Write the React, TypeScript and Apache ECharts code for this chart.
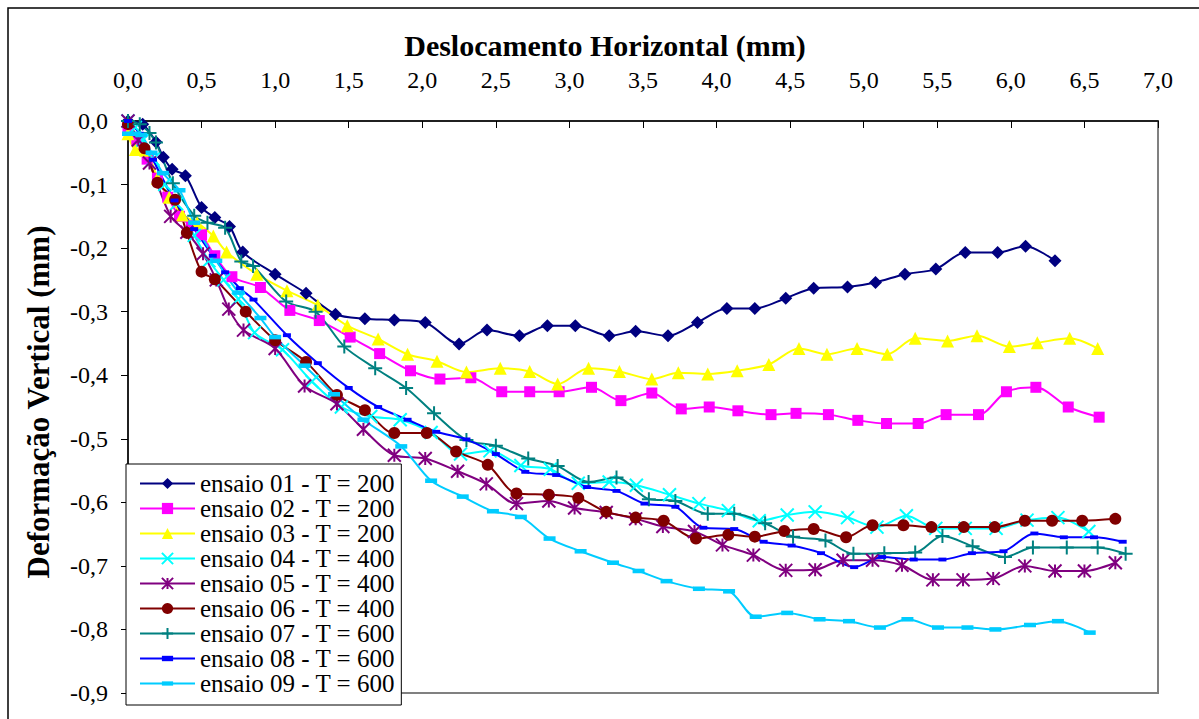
import React, { useEffect, useRef } from "react";
import * as echarts from "echarts";

const xTicks = { min: 0, max: 7, step: 0.5 };
const yTicks = { min: -0.9, max: 0, step: 0.1 };

const xTitle = "Deslocamento Horizontal (mm)";
const yTitle = "Deformação Vertical (mm)";

const seriesNames = [
  "ensaio 01 - T = 200",
  "ensaio 02 - T = 200",
  "ensaio 03 - T = 200",
  "ensaio 04 - T = 400",
  "ensaio 05 - T = 400",
  "ensaio 06 - T = 400",
  "ensaio 07 - T = 600",
  "ensaio 08 - T = 600",
  "ensaio 09 - T = 600",
];

const ensaio01 = [[0,0],[0.1,-0.005],[0.19,-0.033],[0.24,-0.057],[0.3,-0.076],[0.39,-0.086],[0.5,-0.136],[0.59,-0.152],[0.69,-0.166],[0.78,-0.206],[1.0,-0.241],[1.21,-0.271],[1.41,-0.304],[1.61,-0.311],[1.81,-0.313],[2.02,-0.317],[2.25,-0.351],[2.44,-0.329],[2.66,-0.338],[2.85,-0.322],[3.04,-0.322],[3.27,-0.338],[3.45,-0.331],[3.67,-0.338],[3.87,-0.317],[4.07,-0.295],[4.26,-0.295],[4.47,-0.279],[4.66,-0.263],[4.89,-0.261],[5.08,-0.254],[5.28,-0.241],[5.49,-0.233],[5.69,-0.207],[5.91,-0.207],[6.10,-0.197],[6.30,-0.220]];
const ensaio02 = [[0,-0.01],[0.06,-0.03],[0.13,-0.06],[0.2,-0.09],[0.27,-0.12],[0.35,-0.15],[0.43,-0.165],[0.5,-0.179],[0.59,-0.212],[0.706,-0.245],[0.9,-0.262],[1.1,-0.298],[1.3,-0.314],[1.51,-0.34],[1.71,-0.366],[1.92,-0.393],[2.12,-0.406],[2.33,-0.404],[2.54,-0.426],[2.73,-0.426],[2.93,-0.426],[3.15,-0.419],[3.35,-0.44],[3.56,-0.428],[3.76,-0.453],[3.95,-0.45],[4.145,-0.456],[4.37,-0.462],[4.54,-0.46],[4.76,-0.462],[4.96,-0.471],[5.155,-0.476],[5.37,-0.476],[5.56,-0.462],[5.78,-0.462],[5.97,-0.426],[6.17,-0.419],[6.39,-0.45],[6.6,-0.466]];
const ensaio03 = [[0,-0.02],[0.05,-0.045],[0.12,-0.046],[0.2,-0.09],[0.28,-0.12],[0.37,-0.148],[0.47,-0.16],[0.58,-0.181],[0.67,-0.206],[0.875,-0.241],[1.08,-0.267],[1.29,-0.29],[1.49,-0.322],[1.7,-0.343],[1.9,-0.367],[2.1,-0.378],[2.3,-0.395],[2.53,-0.389],[2.73,-0.394],[2.92,-0.414],[3.13,-0.389],[3.34,-0.394],[3.56,-0.406],[3.74,-0.396],[3.94,-0.398],[4.14,-0.393],[4.355,-0.383],[4.56,-0.358],[4.75,-0.367],[4.955,-0.358],[5.16,-0.367],[5.35,-0.342],[5.57,-0.346],[5.77,-0.338],[5.99,-0.355],[6.18,-0.349],[6.4,-0.342],[6.59,-0.358]];
const ensaio04 = [[0,0],[0.05,-0.01],[0.1,-0.03],[0.17,-0.06],[0.25,-0.1],[0.33,-0.13],[0.45,-0.18],[0.55,-0.22],[0.65,-0.25],[0.75,-0.28],[0.86,-0.333],[1.05,-0.36],[1.25,-0.41],[1.45,-0.45],[1.65,-0.465],[1.85,-0.47],[2.06,-0.49],[2.26,-0.524],[2.46,-0.519],[2.67,-0.542],[2.87,-0.548],[3.06,-0.57],[3.27,-0.568],[3.455,-0.573],[3.68,-0.588],[3.88,-0.602],[4.08,-0.613],[4.29,-0.629],[4.48,-0.62],[4.67,-0.615],[4.89,-0.624],[5.09,-0.639],[5.29,-0.621],[5.49,-0.641],[5.69,-0.641],[5.9,-0.641],[6.11,-0.628],[6.32,-0.624],[6.53,-0.646]];
const ensaio05 = [[0,0],[0.07,-0.03],[0.146,-0.066],[0.29,-0.15],[0.4,-0.175],[0.51,-0.209],[0.6,-0.25],[0.685,-0.296],[0.785,-0.329],[1.0,-0.358],[1.2,-0.417],[1.42,-0.445],[1.6,-0.485],[1.81,-0.526],[2.02,-0.531],[2.24,-0.551],[2.435,-0.571],[2.64,-0.602],[2.86,-0.598],[3.035,-0.609],[3.25,-0.616],[3.45,-0.626],[3.635,-0.638],[3.85,-0.646],[4.04,-0.667],[4.25,-0.683],[4.47,-0.707],[4.67,-0.706],[4.86,-0.691],[5.06,-0.691],[5.26,-0.699],[5.47,-0.722],[5.675,-0.722],[5.88,-0.72],[6.095,-0.7],[6.3,-0.708],[6.5,-0.708],[6.71,-0.695]];
const ensaio06 = [[0,-0.005],[0.112,-0.043],[0.2,-0.097],[0.32,-0.124],[0.4,-0.176],[0.5,-0.237],[0.59,-0.249],[0.8,-0.3],[1.0,-0.345],[1.21,-0.379],[1.42,-0.431],[1.61,-0.455],[1.81,-0.491],[2.03,-0.491],[2.23,-0.52],[2.445,-0.541],[2.64,-0.586],[2.86,-0.588],[3.06,-0.593],[3.25,-0.615],[3.45,-0.624],[3.64,-0.629],[3.86,-0.657],[4.08,-0.651],[4.26,-0.654],[4.46,-0.645],[4.66,-0.642],[4.88,-0.655],[5.06,-0.636],[5.27,-0.636],[5.46,-0.639],[5.68,-0.639],[5.89,-0.639],[6.095,-0.629],[6.28,-0.629],[6.485,-0.629],[6.71,-0.626]];
const ensaio07 = [[0,0],[0.08,-0.005],[0.146,-0.019],[0.19,-0.034],[0.305,-0.098],[0.45,-0.149],[0.54,-0.16],[0.66,-0.168],[0.77,-0.221],[0.85,-0.228],[1.075,-0.284],[1.275,-0.3],[1.47,-0.355],[1.68,-0.389],[1.89,-0.42],[2.08,-0.46],[2.3,-0.502],[2.5,-0.511],[2.72,-0.531],[2.92,-0.543],[3.13,-0.568],[3.32,-0.561],[3.54,-0.595],[3.72,-0.598],[3.94,-0.618],[4.12,-0.618],[4.33,-0.633],[4.52,-0.654],[4.74,-0.66],[4.93,-0.681],[5.14,-0.68],[5.35,-0.679],[5.535,-0.653],[5.74,-0.669],[5.96,-0.686],[6.15,-0.671],[6.38,-0.671],[6.59,-0.671],[6.78,-0.681]];
const ensaio08 = [[0,0],[0.08,-0.02],[0.17,-0.061],[0.316,-0.125],[0.45,-0.17],[0.576,-0.212],[0.66,-0.238],[0.76,-0.263],[0.853,-0.281],[1.08,-0.337],[1.29,-0.381],[1.5,-0.42],[1.7,-0.45],[1.9,-0.47],[2.095,-0.489],[2.3,-0.501],[2.5,-0.524],[2.7,-0.552],[2.91,-0.557],[3.12,-0.576],[3.32,-0.582],[3.51,-0.602],[3.72,-0.607],[3.91,-0.64],[4.12,-0.642],[4.32,-0.662],[4.51,-0.668],[4.71,-0.68],[4.935,-0.702],[5.125,-0.686],[5.34,-0.69],[5.535,-0.69],[5.735,-0.68],[5.95,-0.677],[6.16,-0.649],[6.36,-0.655],[6.565,-0.655],[6.76,-0.662]];
const ensaio09 = [[0,-0.02],[0.05,-0.02],[0.09,-0.022],[0.16,-0.05],[0.237,-0.082],[0.35,-0.109],[0.45,-0.16],[0.6,-0.22],[0.75,-0.27],[0.9,-0.31],[1.0,-0.34],[1.2,-0.385],[1.4,-0.43],[1.6,-0.47],[1.857,-0.512],[2.06,-0.566],[2.275,-0.591],[2.48,-0.614],[2.67,-0.623],[2.865,-0.657],[3.076,-0.677],[3.296,-0.695],[3.47,-0.708],[3.66,-0.724],[3.88,-0.736],[4.085,-0.74],[4.266,-0.78],[4.48,-0.774],[4.7,-0.784],[4.9,-0.787],[5.11,-0.797],[5.297,-0.784],[5.505,-0.797],[5.705,-0.797],[5.895,-0.8],[6.13,-0.793],[6.32,-0.787],[6.536,-0.805]];

const seriesData = [ensaio01, ensaio02, ensaio03, ensaio04, ensaio05, ensaio06, ensaio07, ensaio08, ensaio09];
const colors = ["#000080", "#FF00FF", "#FFFF00", "#00FFFF", "#800080", "#800000", "#008080", "#0000FF", "#00CCFF"];

const SERIF = "Liberation Serif, Times New Roman, serif";

const symbols: any[] = [
  { symbol: "diamond", size: 13 },
  { symbol: "rect", size: 11 },
  { symbol: "triangle", size: 13 },
  { symbol: "path://M0,0L10,10M10,0L0,10", size: 13, stroke: true },
  { symbol: "path://M5,0L5,10M0,0L10,10M10,0L0,10", size: 13, stroke: true },
  { symbol: "circle", size: 12 },
  { symbol: "path://M5,0L5,10M0,5L10,5", size: 14, stroke: true },
  { symbol: "path://M0,0M0,2.6L10,2.6L10,7.4L0,7.4ZM10,10", size: 8 },
  { symbol: "path://M0,0M0,3.1L10,3.1L10,6.9L0,6.9ZM10,10", size: 12 },
];

const fmt = (v: number) => (Math.abs(v) < 1e-9 ? "0,0" : v.toFixed(1).replace(".", ","));

export default function App() {
  const ref = useRef<HTMLDivElement>(null);
  useEffect(() => {
    if (!ref.current) return;
    const chart = echarts.init(ref.current, undefined, { renderer: "svg" });
    const series = seriesData.map((d, i) => {
      const s = symbols[i];
      return {
        name: seriesNames[i],
        type: "line",
        data: d,
        smooth: 0.3,
        symbol: s.symbol,
        symbolSize: s.size,
        showAllSymbol: true,
        lineStyle: { color: colors[i], width: 2 },
        itemStyle: s.stroke
          ? { color: colors[i], borderColor: colors[i], borderWidth: 2 }
          : { color: colors[i], borderWidth: 0 },
        emphasis: { disabled: true },
        z: 2,
      };
    });
    chart.setOption({
      animation: false,
      backgroundColor: "#ffffff",
      graphic: [
        {
          type: "rect",
          shape: { x: 8, y: 8, width: 1400, height: 1000 },
          style: { fill: "none", stroke: "#000", lineWidth: 1.5 },
          silent: true,
          z: 0,
        },
        {
          type: "text",
          x: 605,
          y: 45,
          style: {
            text: xTitle,
            fontFamily: SERIF,
            fontSize: 30,
            fontWeight: "bold",
            fill: "#000",
            align: "center",
            verticalAlign: "middle",
          },
          silent: true,
        },
        {
          type: "text",
          x: 38,
          y: 402,
          rotation: Math.PI / 2,
          style: {
            text: yTitle,
            fontFamily: SERIF,
            fontSize: 31,
            fontWeight: "bold",
            fill: "#000",
            align: "center",
            verticalAlign: "middle",
          },
          silent: true,
        },
      ],
      grid: {
        left: 128,
        top: 121,
        width: 1030,
        height: 572,
        show: true,
        borderColor: "#808080",
        borderWidth: 2,
        backgroundColor: "transparent",
      },
      legend: {
        orient: "vertical",
        left: 126,
        top: 464,
        width: 278,
        padding: [7, 6, 9, 13],
        itemGap: 0,
        itemWidth: 55,
        itemHeight: 14,
        backgroundColor: "#ffffff",
        borderColor: "#000",
        borderWidth: 1,
        borderRadius: 0,
        textStyle: { fontFamily: SERIF, fontSize: 25, color: "#000", lineHeight: 23.8 },
        data: seriesNames,
        z: 10,
      },
      xAxis: {
        type: "value",
        position: "top",
        min: xTicks.min,
        max: xTicks.max,
        interval: xTicks.step,
        axisLine: { show: true, lineStyle: { color: "#000", width: 1.5 } },
        axisTick: { show: true, inside: true, length: 7, lineStyle: { color: "#000", width: 1 } },
        axisLabel: { formatter: fmt, fontFamily: SERIF, fontSize: 24, color: "#000", margin: 29 },
        splitLine: { show: false },
      },
      yAxis: {
        type: "value",
        min: yTicks.min,
        max: yTicks.max,
        interval: yTicks.step,
        axisLine: { show: true, onZero: false, lineStyle: { color: "#000", width: 1.5 } },
        axisTick: { show: true, inside: false, length: 7, lineStyle: { color: "#000", width: 1 } },
        axisLabel: { formatter: fmt, fontFamily: SERIF, fontSize: 24, color: "#000", margin: 20 },
        splitLine: { show: false },
      },
      series,
    });
    return () => chart.dispose();
  }, []);
  return (
    <div
      ref={ref}
      style={{ position: "fixed", left: 0, top: 0, width: 1199, height: 719, background: "#fff" }}
    />
  );
}
